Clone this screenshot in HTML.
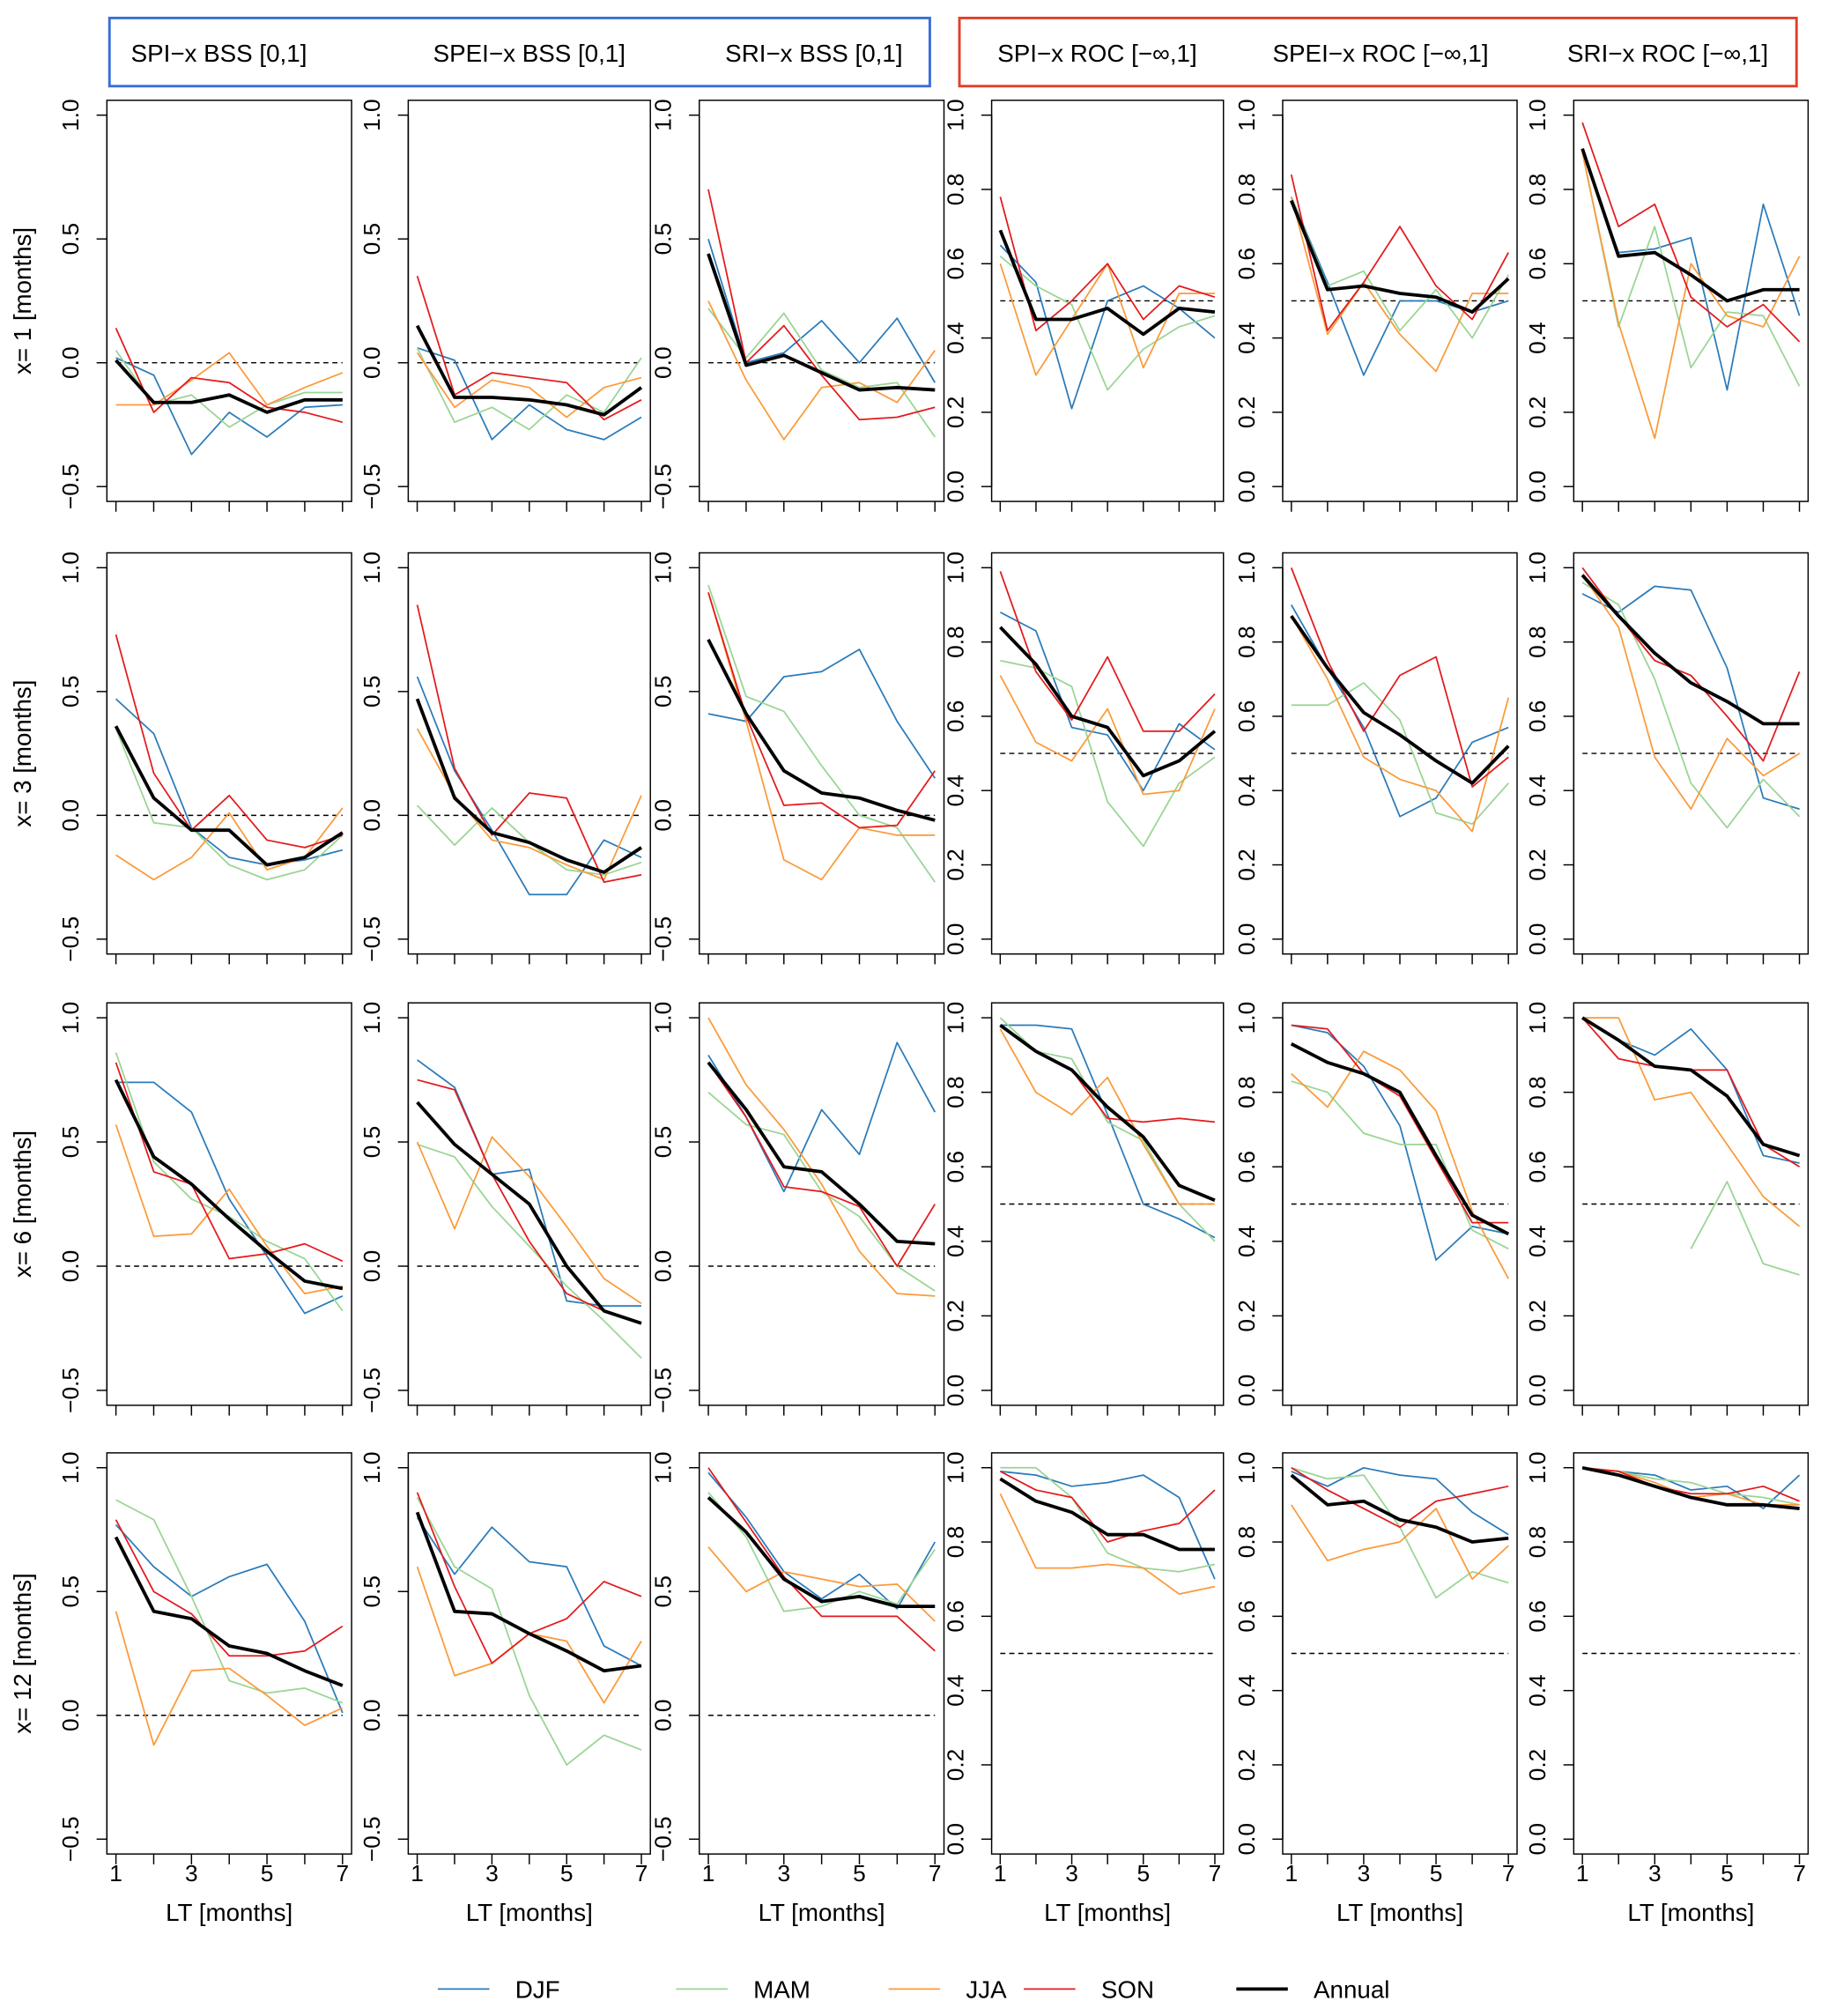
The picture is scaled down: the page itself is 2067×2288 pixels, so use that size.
<!DOCTYPE html>
<html><head><meta charset="utf-8"><style>
html,body{margin:0;padding:0;background:#fff}
svg{display:block}
text{font-family:"Liberation Sans",Arial,sans-serif;fill:#000}
</style></head><body>
<svg id="c" width="2067" height="2288" viewBox="0 0 1414 1568" preserveAspectRatio="none">
<rect x="85" y="14" width="637" height="53" fill="none" stroke="#3b6fd6" stroke-width="2"/>
<rect x="745" y="14" width="650" height="53" fill="none" stroke="#e0402a" stroke-width="2"/>
<text x="170" y="48" font-size="19" text-anchor="middle">SPI−x BSS [0,1]</text>
<text x="411" y="48" font-size="19" text-anchor="middle">SPEI−x BSS [0,1]</text>
<text x="632" y="48" font-size="19" text-anchor="middle">SRI−x BSS [0,1]</text>
<text x="852" y="48" font-size="19" text-anchor="middle">SPI−x ROC [−∞,1]</text>
<text x="1072" y="48" font-size="19" text-anchor="middle">SPEI−x ROC [−∞,1]</text>
<text x="1295" y="48" font-size="19" text-anchor="middle">SRI−x ROC [−∞,1]</text>
</svg>
<script>
const seasons=["DJF","MAM","JJA","SON","Annual"];
const colors=["#2b7bba","#99d594","#fb9a3a","#e31a1c","#000000"];
const rowLabels=["x= 1 [months]","x= 3 [months]","x= 6 [months]","x= 12 [months]"];
const leadTimes=[1,2,3,4,5,6,7];
const bssTicks=["-0.5","0.0","0.5","1.0"];
const rocTicks=["0.0","0.2","0.4","0.6","0.8","1.0"];
const xTickLabels=["1","3","5","7"];
const N=null;
const r1c1=[[0.02,-0.05,-0.37,-0.2,-0.3,-0.18,-0.17],[0.05,-0.17,-0.13,-0.26,-0.17,-0.12,-0.12],[-0.17,-0.17,-0.07,0.04,-0.17,-0.1,-0.04],[0.14,-0.2,-0.06,-0.08,-0.18,-0.2,-0.24],[0.01,-0.16,-0.16,-0.13,-0.2,-0.15,-0.15]];
const r1c2=[[0.06,0.01,-0.31,-0.17,-0.27,-0.31,-0.22],[0.06,-0.24,-0.18,-0.27,-0.13,-0.2,0.02],[0.04,-0.18,-0.07,-0.1,-0.22,-0.1,-0.06],[0.35,-0.13,-0.04,-0.06,-0.08,-0.23,-0.15],[0.15,-0.14,-0.14,-0.15,-0.17,-0.21,-0.1]];
const r1c3=[[0.5,0.0,0.04,0.17,0.0,0.18,-0.08],[0.22,0.02,0.2,-0.03,-0.1,-0.08,-0.3],[0.25,-0.07,-0.31,-0.1,-0.08,-0.16,0.05],[0.7,0.0,0.15,-0.05,-0.23,-0.22,-0.18],[0.44,-0.01,0.03,-0.04,-0.11,-0.1,-0.11]];
const r1c4=[[0.65,0.55,0.21,0.5,0.54,0.48,0.4],[0.62,0.54,0.49,0.26,0.37,0.43,0.46],[0.6,0.3,0.45,0.6,0.32,0.52,0.52],[0.78,0.42,0.5,0.6,0.45,0.54,0.51],[0.69,0.45,0.45,0.48,0.41,0.48,0.47]];
const r1c5=[[0.78,0.55,0.3,0.5,0.5,0.47,0.5],[0.78,0.54,0.58,0.42,0.53,0.4,0.57],[0.78,0.41,0.55,0.41,0.31,0.52,0.52],[0.84,0.42,0.55,0.7,0.54,0.45,0.63],[0.77,0.53,0.54,0.52,0.51,0.47,0.56]];
const r1c6=[[0.9,0.63,0.64,0.67,0.26,0.76,0.46],[0.9,0.43,0.7,0.32,0.47,0.46,0.27],[0.9,0.44,0.13,0.6,0.46,0.43,0.62],[0.98,0.7,0.76,0.51,0.43,0.49,0.39],[0.91,0.62,0.63,0.57,0.5,0.53,0.53]];
const r2c1=[[0.47,0.33,-0.05,-0.17,-0.2,-0.18,-0.14],[0.35,-0.03,-0.05,-0.2,-0.26,-0.22,-0.08],[-0.16,-0.26,-0.17,0.01,-0.22,-0.17,0.03],[0.73,0.17,-0.06,0.08,-0.1,-0.13,-0.08],[0.36,0.07,-0.06,-0.06,-0.2,-0.17,-0.07]];
const r2c2=[[0.56,0.18,-0.06,-0.32,-0.32,-0.1,-0.17],[0.04,-0.12,0.03,-0.11,-0.22,-0.24,-0.19],[0.35,0.08,-0.1,-0.13,-0.2,-0.26,0.08],[0.85,0.19,-0.08,0.09,0.07,-0.27,-0.24],[0.47,0.07,-0.07,-0.11,-0.18,-0.23,-0.13]];
const r2c3=[[0.41,0.38,0.56,0.58,0.67,0.38,0.15],[0.93,0.48,0.42,0.2,0.0,-0.05,-0.27],[0.9,0.38,-0.18,-0.26,-0.05,-0.08,-0.08],[0.9,0.4,0.04,0.05,-0.05,-0.04,0.18],[0.71,0.41,0.18,0.09,0.07,0.02,-0.02]];
const r2c4=[[0.88,0.83,0.57,0.55,0.4,0.58,0.51],[0.75,0.73,0.68,0.37,0.25,0.42,0.49],[0.71,0.53,0.48,0.62,0.39,0.4,0.62],[0.99,0.72,0.59,0.76,0.56,0.56,0.66],[0.84,0.74,0.6,0.57,0.44,0.48,0.56]];
const r2c5=[[0.9,0.73,0.57,0.33,0.38,0.53,0.57],[0.63,0.63,0.69,0.59,0.34,0.31,0.42],[0.87,0.7,0.49,0.43,0.4,0.29,0.65],[1.0,0.75,0.56,0.71,0.76,0.41,0.49],[0.87,0.73,0.61,0.55,0.48,0.42,0.52]];
const r2c6=[[0.93,0.88,0.95,0.94,0.73,0.38,0.35],[0.96,0.9,0.7,0.42,0.3,0.43,0.33],[0.98,0.84,0.49,0.35,0.54,0.44,0.5],[1.0,0.87,0.75,0.71,0.6,0.48,0.72],[0.98,0.87,0.77,0.69,0.64,0.58,0.58]];
const r3c1=[[0.74,0.74,0.62,0.27,0.04,-0.19,-0.12],[0.86,0.42,0.27,0.2,0.1,0.03,-0.18],[0.57,0.12,0.13,0.31,0.08,-0.11,-0.08],[0.82,0.38,0.33,0.03,0.05,0.09,0.02],[0.75,0.44,0.33,0.19,0.06,-0.06,-0.09]];
const r3c2=[[0.83,0.72,0.37,0.39,-0.14,-0.16,-0.16],[0.49,0.44,0.24,0.08,-0.08,-0.22,-0.37],[0.5,0.15,0.52,0.36,0.16,-0.05,-0.15],[0.75,0.71,0.37,0.1,-0.11,-0.18,-0.23],[0.66,0.49,0.37,0.25,0.0,-0.18,-0.23]];
const r3c3=[[0.85,0.6,0.3,0.63,0.45,0.9,0.62],[0.7,0.57,0.53,0.3,0.2,0.0,-0.1],[1.0,0.73,0.55,0.33,0.06,-0.11,-0.12],[0.82,0.6,0.32,0.3,0.24,0.0,0.25],[0.82,0.63,0.4,0.38,0.25,0.1,0.09]];
const r3c4=[[0.98,0.98,0.97,0.74,0.5,0.46,0.41],[1.0,0.91,0.89,0.72,0.67,0.5,0.4],[0.97,0.8,0.74,0.84,0.66,0.5,0.5],[0.98,0.91,0.86,0.73,0.72,0.73,0.72],[0.98,0.91,0.86,0.76,0.68,0.55,0.51]];
const r3c5=[[0.98,0.96,0.87,0.71,0.35,0.44,0.42],[0.83,0.8,0.69,0.66,0.66,0.43,0.38],[0.85,0.76,0.91,0.86,0.75,0.48,0.3],[0.98,0.97,0.85,0.79,0.62,0.45,0.45],[0.93,0.88,0.85,0.8,0.63,0.47,0.42]];
const r3c6=[[1.0,0.94,0.9,0.97,0.86,0.63,0.61],[N,N,N,0.38,0.56,0.34,0.31],[1.0,1.0,0.78,0.8,0.66,0.52,0.44],[1.0,0.89,0.87,0.86,0.86,0.66,0.6],[1.0,0.94,0.87,0.86,0.79,0.66,0.63]];
const r4c1=[[0.77,0.6,0.48,0.56,0.61,0.38,0.01],[0.87,0.79,0.48,0.14,0.09,0.11,0.05],[0.42,-0.12,0.18,0.19,0.08,-0.04,0.03],[0.79,0.5,0.41,0.24,0.24,0.26,0.36],[0.72,0.42,0.39,0.28,0.25,0.18,0.12]];
const r4c2=[[0.8,0.57,0.76,0.62,0.6,0.28,0.2],[0.88,0.6,0.51,0.08,-0.2,-0.08,-0.14],[0.6,0.16,0.21,0.33,0.3,0.05,0.3],[0.9,0.52,0.21,0.33,0.39,0.54,0.48],[0.82,0.42,0.41,0.33,0.26,0.18,0.2]];
const r4c3=[[0.98,0.8,0.58,0.47,0.57,0.43,0.7],[0.9,0.72,0.42,0.44,0.5,0.45,0.67],[0.68,0.5,0.58,0.55,0.52,0.53,0.38],[1.0,0.78,0.56,0.4,0.4,0.4,0.26],[0.88,0.74,0.55,0.46,0.48,0.44,0.44]];
const r4c4=[[0.99,0.98,0.95,0.96,0.98,0.92,0.7],[1.0,1.0,0.92,0.77,0.73,0.72,0.74],[0.93,0.73,0.73,0.74,0.73,0.66,0.68],[0.99,0.94,0.92,0.8,0.83,0.85,0.94],[0.97,0.91,0.88,0.82,0.82,0.78,0.78]];
const r4c5=[[0.99,0.95,1.0,0.98,0.97,0.88,0.82],[1.0,0.97,0.98,0.84,0.65,0.72,0.69],[0.9,0.75,0.78,0.8,0.89,0.7,0.79],[1.0,0.94,0.89,0.84,0.91,0.93,0.95],[0.98,0.9,0.91,0.86,0.84,0.8,0.81]];
const r4c6=[[1.0,0.99,0.98,0.94,0.95,0.89,0.98],[1.0,0.99,0.97,0.96,0.93,0.92,0.9],[1.0,0.99,0.96,0.92,0.93,0.9,0.9],[1.0,0.99,0.95,0.93,0.93,0.95,0.91],[1.0,0.98,0.95,0.92,0.9,0.9,0.89]];
const panels=[[r1c1,r1c2,r1c3,r1c4,r1c5,r1c6],[r2c1,r2c2,r2c3,r2c4,r2c5,r2c6],[r3c1,r3c2,r3c3,r3c4,r3c5,r3c6],[r4c1,r4c2,r4c3,r4c4,r4c5,r4c6]];

const NS="http://www.w3.org/2000/svg";
const svg=document.getElementById('c');
const colL=[83,317,543,770,996,1222], colR=[273,505,733,950,1178,1404];
const rowT=[78,430,780,1130], rowB=[390,742,1093,1442];
function mk(tag,attrs,parent){const e=document.createElementNS(NS,tag);for(const k in attrs)e.setAttribute(k,attrs[k]);(parent||svg).appendChild(e);return e;}
const panelNames=["spi-bss","spei-bss","sri-bss","spi-roc","spei-roc","sri-roc"];
for(let r=0;r<4;r++){
  const t=mk('text',{x:0,y:0,'font-size':19,'text-anchor':'middle',transform:`translate(24,${(rowT[r]+rowB[r])/2}) rotate(-90)`});
  
  
  t.textContent=rowLabels[r];
  for(let c=0;c<6;c++){
    const isB=c<3;
    const ymin=isB?-0.5:0, ymax=1;
    const pad=(ymax-ymin)*0.04;
    const L=colL[c],R=colR[c],T=rowT[r],B=rowB[r];
    const sx=v=>L+(v-0.76)/(6.48)*(R-L);
    const sy=v=>B-(v-(ymin-pad))/((ymax-ymin)+2*pad)*(B-T);
    const g=mk('g',{});
    
    
    const ticks=isB?bssTicks:rocTicks;
    ticks.forEach(tl=>{const v=parseFloat(tl);const y=sy(v);
      mk('line',{x1:L-8,x2:L,y1:y,y2:y,stroke:'#000','stroke-width':1},g);
      const tx=mk('text',{x:0,y:0,'font-size':18,'text-anchor':'middle',transform:`translate(${L-22},${y}) rotate(-90)`},g);
      
      
      tx.textContent=tl.replace('-','−');});
    mk('line',{x1:L,x2:L,y1:sy(ymin),y2:sy(ymax),stroke:'#000'},g);
    leadTimes.forEach(v=>{const x=sx(v);mk('line',{x1:x,x2:x,y1:B,y2:B+8,stroke:'#000'},g);});
    if(r===3){
      xTickLabels.forEach(tl=>{const tx=mk('text',{x:sx(+tl),y:B+21,'font-size':18,'text-anchor':'middle'},g);
        
        
        tx.textContent=tl;});
      const xl=mk('text',{x:(L+R)/2,y:1494,'font-size':19,'text-anchor':'middle'},g);
      
      
      xl.textContent='LT [months]';
    }
    mk('rect',{x:L,y:T,width:R-L,height:B-T,fill:'none',stroke:'#000','stroke-width':1},g);
    const ref=isB?0:0.5;
    mk('line',{x1:sx(1),x2:sx(7),y1:sy(ref),y2:sy(ref),stroke:'#000','stroke-dasharray':'4,3','stroke-width':1},g);
    const data=panels[r][c];
    data.forEach((ser,si)=>{
      let d='';let pen=false;
      ser.forEach((v,i)=>{if(v===null){pen=false;return;}d+=(pen?'L':'M')+sx(leadTimes[i]).toFixed(1)+','+sy(v).toFixed(1);pen=true;});
      const p=mk('path',{d:d,fill:'none',stroke:colors[si],'stroke-width':si===4?2.6:1.2,'stroke-linejoin':'round'},g);
      
      
    });
  }
}
const lx=[340,525,690,795,960];
seasons.forEach((s,i)=>{
  const g=mk('g',{});
  
  
  mk('line',{x1:lx[i],x2:lx[i]+40,y1:1547,y2:1547,stroke:colors[i],'stroke-width':i===4?2.6:1.2},g);
  const t=mk('text',{x:lx[i]+60,y:1554,'font-size':19},g);
  t.textContent=s;
});
</script>
</body></html>
